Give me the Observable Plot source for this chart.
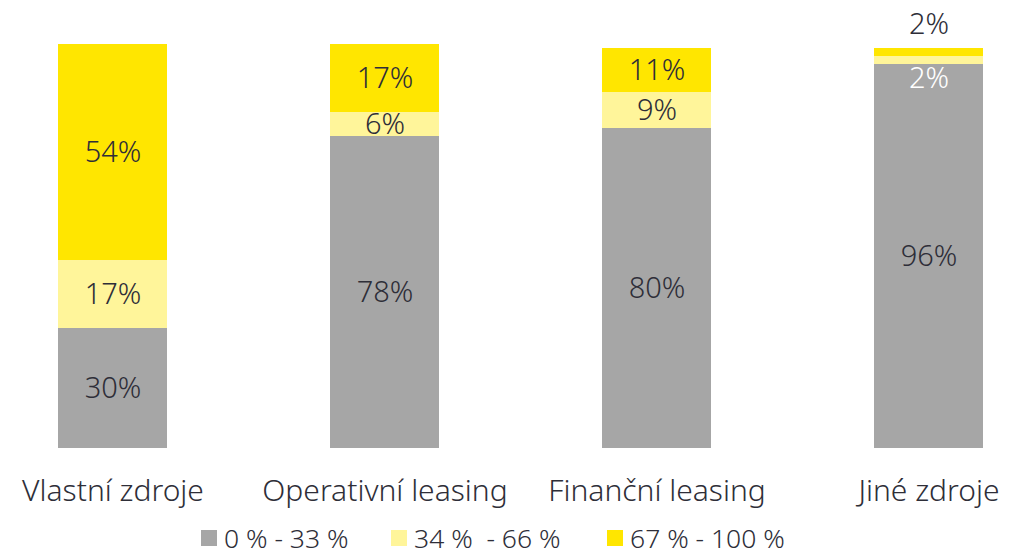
<!DOCTYPE html>
<html>
<head>
<meta charset="utf-8">
<script src="https://cdn.jsdelivr.net/npm/d3@7"></script>
<script src="https://cdn.jsdelivr.net/npm/@observablehq/plot@0.6"></script>
<style>
  html, body { margin: 0; padding: 0; background: #fff; }
  body { width: 1015px; height: 556px; overflow: hidden; position: relative; font-family: "Noto Sans", sans-serif; color: #2E2E38; }
  #legend { position: absolute; left: 0; top: 525px; width: 1015px; height: 26px; font-size: 26.5px; font-weight: 300; line-height: 26px; }
  .item { position: absolute; top: 0; display: flex; align-items: center; white-space: pre; height: 26px; line-height: 26px; }
  .sw { width: 16px; height: 16px; margin-right: 7px; display: inline-block; }
</style>
</head>
<body>
<div id="chart"></div>
<div id="legend"></div>
<script>
const categories = ["Vlastní zdroje", "Operativní leasing", "Finanční leasing", "Jiné zdroje"];
const seriesNames = ["0 % - 33 %", "34 %  - 66 %", "67 % - 100 %"];
const seriesColors = ["#A6A6A6", "#FFF59A", "#FFE600"];
const low = [30, 78, 80, 96];
const mid = [17, 6, 9, 2];
const high = [54, 17, 11, 2];

const seriesValues = [low, mid, high];
const data = [];
categories.forEach((c, i) => {
  let base = 0;
  seriesValues.forEach((vals, s) => {
    const v = vals[i];
    data.push({ category: c, series: seriesNames[s], value: v, order: s,
      y1: base, y2: base + v, mid: base + v / 2,
      special: c === "Jiné zdroje" && s > 0 });
    base += v;
  });
});

const label = d => d.value + "%";
const textBase = { x: "category", y: "mid", fontSize: 29, fontWeight: 300, fontFamily: "Noto Sans, sans-serif", text: label };

const chart = Plot.plot({
  width: 1015,
  height: 515,
  marginLeft: 56,
  marginRight: 31,
  marginTop: 48,
  marginBottom: 67,
  style: { fontFamily: "Noto Sans, sans-serif", color: "#2E2E38", background: "#fff" },
  x: { domain: categories, paddingInner: 0.6007, paddingOuter: 0, label: null },
  y: { domain: [0, 100], axis: null },
  color: { domain: seriesNames, range: seriesColors },
  marks: [
    Plot.barY(data, { x: "category", y1: "y1", y2: "y2", fill: "series" }),
    Plot.axisX({ tickSize: 0, tickPadding: 31, fontSize: 30, fontWeight: 300, fill: "#2E2E38", label: null }),
    Plot.text(data.filter(d => !d.special), { ...textBase, fill: "#2E2E38" }),
    Plot.text(data.filter(d => d.special && d.order === 1), { ...textBase, fill: "#FFFFFF", dy: 18 }),
    Plot.text(data.filter(d => d.special && d.order === 2), { ...textBase, fill: "#2E2E38", dy: -28 })
  ]
});
document.getElementById("chart").appendChild(chart);

const legendX = [201, 391, 607];
const legend = document.getElementById("legend");
seriesNames.forEach((n, i) => {
  const item = document.createElement("div");
  item.className = "item";
  item.style.left = legendX[i] + "px";
  const sw = document.createElement("span");
  sw.className = "sw";
  sw.style.background = seriesColors[i];
  item.appendChild(sw);
  item.appendChild(document.createTextNode(n));
  legend.appendChild(item);
});
</script>
</body>
</html>
